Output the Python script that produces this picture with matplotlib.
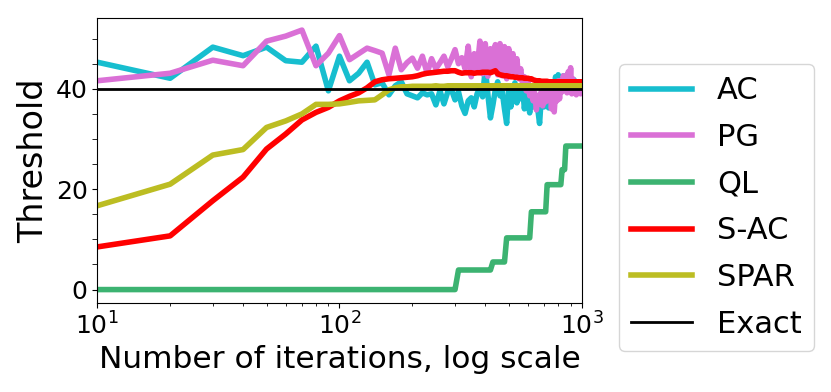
import numpy as np
from matplotlib import pyplot as plt, ticker

iterations = np.arange(10, 1001, 10)

ac = [45.3, 42.1, 48.3, 46.6, 48.3, 45.6, 45.3, 48.5, 39.6, 46.5,
      41.6, 43.1, 45.3, 40.8, 41.2, 38.8, 40.6, 41.4, 39.0, 38.6,
      38.2, 39.2, 38.8, 39.0, 36.8, 39.6, 37.0, 39.4, 39.8, 37.8,
      39.4, 36.6, 35.1, 37.6, 38.2, 36.4, 39.0, 40.2, 38.4, 44.1,
      38.8, 34.2, 36.8, 39.8, 41.4, 38.6, 39.4, 36.0, 33.1, 40.4,
      36.4, 38.8, 41.2, 37.2, 39.6, 38.0, 40.4, 36.0, 39.0, 37.8,
      35.2, 39.6, 36.4, 38.4, 37.0, 35.6, 33.1, 37.8, 38.8, 36.4,
      37.0, 39.4, 36.2, 39.8, 38.0, 41.0, 39.6, 42.4, 41.0, 42.8,
      40.6, 42.0, 41.0, 42.6, 40.2, 41.8, 42.4, 40.4, 41.6, 40.0,
      41.2, 40.6, 41.8, 40.2, 41.0, 40.4, 41.4, 40.6, 41.0, 40.8]

pg = [41.6, 43.1, 45.7, 44.6, 49.5, 50.5, 51.7, 44.6, 47.1, 50.6,
      45.8, 47.0, 48.1, 47.6, 47.1, 42.8, 48.1, 43.8, 45.2, 46.1,
      44.1, 46.5, 43.1, 46.0, 44.0, 45.2, 46.5, 44.4, 46.0, 47.8,
      45.0, 46.2, 44.0, 48.5, 42.4, 47.0, 44.0, 49.5, 43.0, 49.0,
      42.5, 48.0, 43.5, 48.8, 42.8, 49.0, 42.6, 48.4, 42.0, 48.0,
      42.8, 47.0, 43.0, 46.0, 42.0, 44.0, 41.0, 42.4, 39.6, 41.8,
      38.6, 40.4, 37.6, 39.2, 35.8, 38.6, 37.0, 39.4, 36.6, 40.2,
      37.4, 41.2, 38.0, 40.2, 36.0, 38.8, 35.4, 39.4, 37.6, 41.6,
      38.0, 41.6, 39.4, 42.6, 40.0, 42.2, 39.2, 43.4, 40.0, 44.2,
      39.0, 42.0, 39.6, 41.0, 38.8, 40.6, 39.4, 40.2, 39.0, 39.6]

ql = [0, 0, 0, 0, 0, 0, 0, 0, 0, 0,
      0, 0, 0, 0, 0, 0, 0, 0, 0, 0,
      0, 0, 0, 0, 0, 0, 0, 0, 0, 0,
      3.9, 3.9, 3.9, 3.9, 3.9, 3.9, 3.9, 3.9, 3.9, 3.9,
      3.9, 3.9, 5.5, 5.5, 5.5, 5.5, 5.5, 5.5, 10.3, 10.3,
      10.3, 10.3, 10.3, 10.3, 10.3, 10.3, 10.3, 10.3, 10.3, 10.3,
      10.3, 15.5, 15.5, 15.5, 15.5, 15.5, 15.5, 15.5, 15.5, 15.5,
      15.5, 20.9, 20.9, 20.9, 20.9, 20.9, 20.9, 20.9, 20.9, 20.9,
      20.9, 20.9, 23.9, 23.9, 23.9, 28.6, 28.6, 28.6, 28.6, 28.6,
      28.6, 28.6, 28.6, 28.6, 28.6, 28.6, 28.6, 28.6, 28.6, 28.6]

sac = [8.5, 10.7, 17.7, 22.4, 28.0, 31.0, 33.8, 35.3, 36.3, 37.6,
       38.5, 39.2, 40.2, 41.4, 41.8, 42.0, 42.1, 42.2, 42.3, 42.4,
       42.6, 42.9, 43.1, 43.2, 43.3, 43.4, 43.5, 43.5, 43.6, 43.6,
       43.3, 43.1, 43.2, 43.2, 43.2, 43.1, 43.2, 43.2, 43.3, 43.3,
       43.3, 43.2, 43.4, 43.6, 43.0, 42.8, 42.7, 42.6, 42.6, 42.5,
       42.4, 42.4, 42.3, 42.3, 42.2, 42.2, 42.2, 42.1, 42.1, 42.1,
       42.0, 42.0, 41.8, 41.7, 41.6, 41.6, 41.6, 41.5, 41.5, 41.5,
       41.5, 41.5, 41.4, 41.4, 41.4, 41.4, 41.4, 41.4, 41.4, 41.4,
       41.4, 41.3, 41.4, 41.4, 41.3, 41.4, 41.4, 41.3, 41.4, 41.4,
       41.3, 41.4, 41.4, 41.3, 41.4, 41.4, 41.4, 41.3, 41.4, 41.4]

spar = [16.7, 21.0, 26.8, 27.9, 32.3, 33.6, 35.0, 36.9, 36.9, 37.0,
        37.3, 37.6, 37.7, 37.8, 38.8, 39.8, 40.2, 40.4, 40.4, 40.5,
        40.5, 40.5, 40.5, 40.5, 40.6, 40.5, 40.5, 40.6, 40.6, 40.6,
        40.6, 40.6, 40.6, 40.6, 40.6, 40.6, 40.6, 40.6, 40.6, 40.6,
        40.6, 40.6, 40.6, 40.6, 40.6, 40.6, 40.6, 40.6, 40.6, 40.6,
        40.6, 40.6, 40.6, 40.6, 40.6, 40.6, 40.6, 40.6, 40.6, 40.6,
        40.6, 40.6, 40.6, 40.6, 40.6, 40.6, 40.6, 40.6, 40.6, 40.6,
        40.6, 40.6, 40.6, 40.6, 40.6, 40.6, 40.6, 40.6, 40.6, 40.6,
        40.6, 40.6, 40.6, 40.6, 40.6, 40.6, 40.6, 40.6, 40.6, 40.6,
        40.6, 40.6, 40.6, 40.6, 40.6, 40.6, 40.6, 40.6, 40.6, 40.6]

exact = 40

fig = plt.figure(figsize=(8.31, 3.92), dpi=100)
ax = fig.add_axes([0.117, 0.228, 0.583, 0.726])

lw = 4
ax.plot(iterations, ac, color='#17becf', lw=lw, label='AC')
ax.plot(iterations, pg, color='orchid', lw=lw, label='PG')
ax.plot(iterations, ql, color='mediumseagreen', lw=lw, label='QL')
ax.plot(iterations, sac, color='red', lw=lw, label='S-AC')
ax.plot(iterations, spar, color='#bcbd22', lw=lw, label='SPAR')
ax.axhline(exact, color='black', lw=2, label='Exact')

ax.set_xscale('log')
ax.set_xlim(10, 1000)
ax.set_ylim(-2.6, 54.1)
ax.yaxis.set_major_locator(ticker.MultipleLocator(20))
ax.yaxis.set_minor_locator(ticker.MultipleLocator(5))
ax.tick_params(axis='y', which='minor', length=3.5)
ax.tick_params(labelsize=18)

ax.set_xlabel('Number of iterations, log scale', fontsize=22.5)
ax.set_ylabel('Threshold', fontsize=24)

ax.legend(loc='center left', bbox_to_anchor=(619 / 831, 1 - 207.5 / 392),
          bbox_transform=fig.transFigure, borderaxespad=0, fontsize=22,
          labelspacing=0.58)

plt.savefig('out.png', dpi=100)
